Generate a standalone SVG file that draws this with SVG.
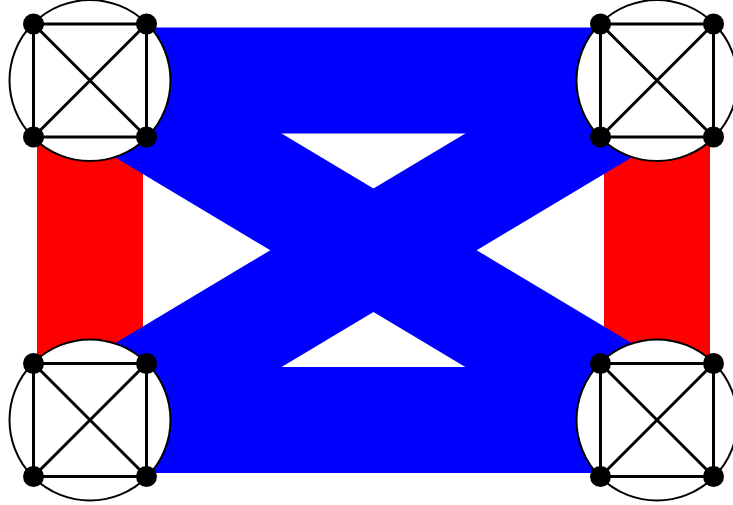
<svg xmlns="http://www.w3.org/2000/svg" width="733" height="505" viewBox="0 0 733 505">
  <style>
    .band { stroke-width: 106; stroke-linecap: butt; fill: none; }
    .red { stroke: #ff0000; }
    .blue { stroke: #0000ff; }
    .ring { fill: #ffffff; stroke: #000000; stroke-width: 2; }
    .edge { stroke: #000000; stroke-width: 3; fill: none; }
    .dot { fill: #000000; }
  </style>
  <defs>
    <g id="k4">
      <circle class="ring" cx="0" cy="0" r="80.5"/>
      <path class="edge" d="M-56.5,-56.5 H56.5 V56.5 H-56.5 Z M-56.5,-56.5 L56.5,56.5 M56.5,-56.5 L-56.5,56.5"/>
      <circle class="dot" cx="-56.5" cy="-56.5" r="10.5"/>
      <circle class="dot" cx="56.5" cy="-56.5" r="10.5"/>
      <circle class="dot" cx="-56.5" cy="56.5" r="10.5"/>
      <circle class="dot" cx="56.5" cy="56.5" r="10.5"/>
    </g>
  </defs>
  <g id="connectors">
    <line class="band red" x1="90" y1="80.5" x2="90" y2="420"/>
    <line class="band red" x1="657" y1="80.5" x2="657" y2="420"/>
    <line class="band blue" x1="90" y1="80.5" x2="657" y2="80.5"/>
    <line class="band blue" x1="90" y1="420" x2="657" y2="420"/>
    <line class="band blue" x1="90" y1="80.5" x2="657" y2="420"/>
    <line class="band blue" x1="657" y1="80.5" x2="90" y2="420"/>
  </g>
  <g id="node-top-left"><use href="#k4" x="90" y="80.5"/></g>
  <g id="node-top-right"><use href="#k4" x="657" y="80.5"/></g>
  <g id="node-bottom-left"><use href="#k4" x="90" y="420"/></g>
  <g id="node-bottom-right"><use href="#k4" x="657" y="420"/></g>
</svg>
